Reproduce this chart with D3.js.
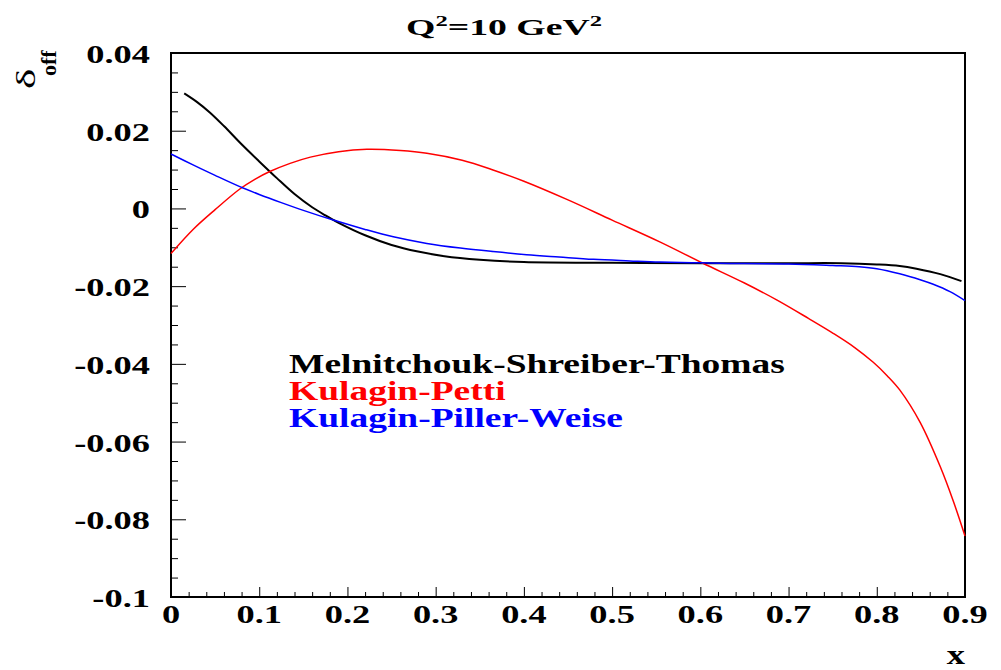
<!DOCTYPE html>
<html><head><meta charset="utf-8">
<script src="https://cdn.jsdelivr.net/npm/d3@7"></script>
<style>body{margin:0;background:#fff}svg{display:block}text{font-family:"Liberation Serif","Times New Roman",serif}</style>
</head><body><svg id="c" width="1001" height="670"></svg>
<script>
// ---- data ----
const xTicks = [0,0.1,0.2,0.3,0.4,0.5,0.6,0.7,0.8,0.9];
const xTickLabels = ["0","0.1","0.2","0.3","0.4","0.5","0.6","0.7","0.8","0.9"];
const yTicks = [0.04,0.02,0,-0.02,-0.04,-0.06,-0.08,-0.1];
const yTickLabels = ["0.04","0.02","0","-0.02","-0.04","-0.06","-0.08","-0.1"];
const seriesNames = ["Melnitchouk-Shreiber-Thomas","Kulagin-Petti","Kulagin-Piller-Weise"];
const seriesColors = ["#000000","#ff0000","#0000ff"];
const mstX = [0.015,0.03,0.044,0.06,0.08,0.1,0.12,0.14,0.16,0.175,0.19,0.22,0.25,0.28,0.31,0.35,0.4,0.5,0.6,0.7,0.76,0.8,0.826,0.845,0.872,0.896];
const mstY = [0.0296,0.0273,0.0247,0.0212,0.0165,0.0121,0.0078,0.0037,0.0003,-0.0018,-0.0037,-0.0069,-0.0094,-0.0111,-0.0123,-0.0132,-0.0138,-0.0140,-0.0141,-0.0141,-0.0141,-0.0144,-0.0148,-0.0155,-0.0169,-0.0187];
const kpX = [0,0.025,0.05,0.078,0.095,0.112,0.135,0.158,0.19,0.222,0.26,0.29,0.33,0.365,0.4,0.45,0.5,0.554,0.603,0.65,0.687,0.7225,0.751,0.775,0.796,0.812,0.826,0.849,0.872,0.887,0.9];
const kpY = [-0.0116,-0.0054,-0.0003,0.0050,0.0075,0.0095,0.0116,0.0132,0.0146,0.0152,0.0149,0.0142,0.0124,0.0099,0.0070,0.0022,-0.0030,-0.0086,-0.0141,-0.0192,-0.0236,-0.0283,-0.0322,-0.0358,-0.0396,-0.0431,-0.0467,-0.0550,-0.0665,-0.0755,-0.0843];
const kpwX = [0,0.025,0.05,0.078,0.1,0.125,0.15,0.184,0.22,0.252,0.29,0.328,0.365,0.403,0.44,0.479,0.52,0.554,0.6,0.65,0.7,0.75,0.78,0.8,0.826,0.85,0.864,0.883,0.9];
const kpwY = [0.0140,0.0112,0.0085,0.0056,0.0036,0.0015,-0.0005,-0.0030,-0.0054,-0.0073,-0.0090,-0.0102,-0.0111,-0.0119,-0.0125,-0.0131,-0.0135,-0.0138,-0.0140,-0.0142,-0.0143,-0.0147,-0.0150,-0.0155,-0.0168,-0.0184,-0.0195,-0.0214,-0.0237];

const svg = d3.select("#c");
const L=171, R=965, T=53, B=597;
const x = d3.scaleLinear().domain([0,0.9]).range([L,R]);
const y = d3.scaleLinear().domain([-0.1,0.04]).range([B,T]);
const SX = 1.4;

// minor + major ticks
const gx = svg.append("g").attr("transform",`translate(0,${B})`)
  .call(d3.axisTop(x).tickValues(d3.range(0,0.9001,0.02)).tickSize(5).tickFormat(""));
gx.selectAll(".tick line").filter(d=>Math.abs(d*10-Math.round(d*10))<1e-6).attr("y2",-10);
const gy = svg.append("g").attr("transform",`translate(${L},0)`)
  .call(d3.axisRight(y).tickValues(d3.range(-0.1,0.04001,0.005)).tickSize(7).tickFormat(""));
gy.selectAll(".tick line").filter(d=>Math.abs(d*50-Math.round(d*50))<1e-6).attr("x2",15);
svg.selectAll(".domain").remove();
svg.selectAll(".tick line").attr("stroke","#000").attr("stroke-width",1);

// frame
svg.append("rect").attr("x",L).attr("y",T).attr("width",R-L).attr("height",B-T)
  .attr("fill","none").attr("stroke","#000").attr("stroke-width",2);

// tick labels
svg.append("g").selectAll("text").data(xTicks).join("text")
  .attr("transform",d=>`translate(${x(d)},623) scale(${SX},1)`)
  .attr("text-anchor","middle").attr("font-size",26).attr("font-weight","bold")
  .text((d,i)=>xTickLabels[i]);
svg.append("g").selectAll("text").data(yTicks).join("text")
  .attr("transform",d=>`translate(150,${y(d)+10}) scale(${SX},1)`)
  .attr("text-anchor","end").attr("font-size",26).attr("font-weight","bold")
  .text((d,i)=>yTickLabels[i]);

// curves
const line = d3.line().x(d=>x(d[0])).y(d=>y(d[1])).curve(d3.curveCatmullRom.alpha(0.5));
const series = [[mstX,mstY],[kpX,kpY],[kpwX,kpwY]];
series.forEach((s,i)=>{
  svg.append("path").datum(s[0].map((v,j)=>[v,s[1][j]]))
    .attr("d",line).attr("fill","none").attr("stroke",seriesColors[i])
    .attr("stroke-width", i===0?2:1.5);
});

// legend
const legY=[373,400,427];
const legs = seriesNames.map((n,i)=>svg.append("text")
    .attr("font-size",27).attr("font-weight","bold").attr("fill",seriesColors[i]).text(n));
const lsx = 496/legs[0].node().getBBox().width;
legs.forEach((t,i)=>t.attr("transform",`translate(289,${legY[i]}) scale(${lsx},1)`));

// title
const title = svg.append("text").attr("font-size",23).attr("font-weight","bold").attr("text-anchor","middle");
title.append("tspan").text("Q");
title.append("tspan").attr("dy",-9).attr("font-size",15).text("2");
title.append("tspan").attr("dy",9).text("=10 GeV");
title.append("tspan").attr("dy",-9).attr("font-size",15).text("2");
const tw = title.node().getBBox().width;
title.attr("transform",`translate(504,35) scale(${196/tw},1)`);

// axis titles
svg.append("text").attr("transform","translate(35,89) rotate(-90) scale(1.55,1)")
  .attr("font-size",28).attr("font-weight","normal").text("δ");
svg.append("text").attr("transform","translate(56,76) rotate(-90)")
  .attr("font-size",22).attr("font-weight","bold").text("off");
svg.append("text").attr("transform","translate(965,664) scale(1.3,1)")
  .attr("text-anchor","end").attr("font-size",28).attr("font-weight","bold").text("x");
</script></body></html>
